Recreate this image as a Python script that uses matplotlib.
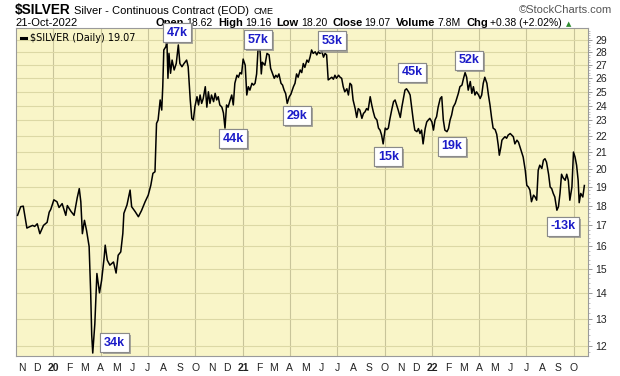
import matplotlib
matplotlib.use('Agg')
import matplotlib.pyplot as plt
import matplotlib.patheffects as pe
import matplotlib.ticker as mticker
from matplotlib.lines import Line2D
import numpy as np
import pandas as pd

plt.rcParams['font.family'] = ['Liberation Sans', 'DejaVu Sans']

# day offsets from 1-Jan-2020 and daily close of $SILVER
START = pd.Timestamp('2020-01-01')
day_offsets = [
    -69, -63, -58, -51, -47, -40, -36, -31, -26, -19,
    -12, -8, -5, 1, 7, 11, 17, 24, 27, 34,
    40, 46, 50, 53, 56, 60, 64, 69, 72, 74,
    76, 80, 84, 89, 93, 98, 100, 104, 109, 116,
    121, 125, 130, 134, 136, 142, 148, 151, 158, 164,
    170, 177, 183, 188, 192, 196, 199, 202, 206, 209,
    211, 213, 217, 219, 221, 223, 226, 229, 233, 237,
    241, 244, 248, 252, 257, 260, 264, 267, 270, 273,
    277, 280, 283, 286, 289, 293, 296, 299, 302, 305,
    309, 312, 315, 318, 321, 325, 328, 331, 334, 337,
    341, 344, 347, 350, 354, 357, 360, 363, 366, 370,
    373, 376, 379, 383, 386, 389, 392, 396, 399, 401,
    403, 405, 408, 412, 416, 419, 422, 426, 429, 432,
    435, 439, 442, 445, 448, 451, 455, 458, 463, 466,
    469, 472, 476, 479, 482, 485, 489, 492, 495, 498,
    501, 505, 508, 511, 514, 518, 521, 524, 527, 530,
    534, 537, 540, 543, 546, 550, 553, 556, 559, 562,
    566, 569, 572, 575, 578, 582, 585, 588, 591, 595,
    598, 601, 604, 607, 611, 614, 617, 620, 624, 627,
    630, 633, 636, 640, 643, 646, 649, 653, 656, 659,
    662, 665, 669, 672, 675, 678, 681, 685, 688, 691,
    694, 697, 701, 704, 707, 710, 713, 717, 720, 723,
    726, 730, 733, 736, 739, 742, 746, 749, 752, 755,
    759, 762, 765, 768, 771, 775, 778, 781, 784, 788,
    791, 794, 797, 800, 804, 807, 810, 813, 816, 820,
    823, 826, 829, 832, 836, 839, 842, 845, 848, 852,
    855, 858, 860, 863, 865, 868, 871, 874, 877, 881,
    884, 887, 890, 894, 897, 900, 903, 906, 910, 913,
    916, 919, 922, 926, 929, 932, 935, 938, 942, 945,
    948, 951, 955, 958, 961, 964, 967, 971, 974, 977,
    980, 983, 987, 990, 993, 996, 1000, 1003, 1006, 1009,
    1012, 1014, 1017, 1021, 1024,
]
close = [
    17.5, 17.94, 17.97, 16.87, 16.92, 17.0, 16.95, 17.08, 16.6, 17.0,
    17.15, 17.66, 17.8, 18.3, 18.2, 17.9, 18.1, 17.5, 18.0, 17.7,
    17.5, 18.4, 18.9, 18.2, 16.6, 17.25, 16.76, 16.0, 14.0, 12.4,
    11.77, 12.8, 14.8, 14.0, 14.5, 15.5, 16.06, 15.38, 15.16, 15.3,
    14.82, 15.6, 15.75, 16.61, 17.6, 18.03, 18.82, 17.94, 17.68, 17.43,
    17.74, 18.2, 18.55, 19.09, 19.75, 19.84, 22.81, 23.03, 24.4, 23.7,
    25.35, 28.18, 28.45, 28.9, 25.97, 27.9, 26.35, 27.37, 26.6, 27.1,
    28.59, 27.1, 26.85, 27.1, 27.37, 26.85, 24.4, 23.14, 23.03, 23.93,
    24.63, 24.05, 24.75, 24.16, 24.5, 25.35, 23.9, 24.98, 24.16, 24.75,
    24.28, 24.87, 24.4, 24.63, 24.05, 23.9, 23.5, 22.5, 24.05, 23.9,
    24.4, 24.75, 24.05, 25.6, 26.2, 26.05, 26.4, 26.3, 27.45, 26.97,
    24.75, 25.35, 25.1, 25.6, 25.47, 25.6, 26.3, 29.2, 27.9, 26.3,
    27.2, 27.1, 26.97, 27.9, 27.78, 26.73, 26.4, 25.97, 26.2, 26.05,
    26.3, 25.6, 25.47, 25.1, 24.85, 24.16, 24.63, 24.8, 25.35, 25.6,
    26.3, 26.05, 26.6, 26.4, 27.1, 26.8, 27.37, 27.2, 27.6, 28.18,
    27.9, 28.03, 27.78, 28.03, 27.9, 28.03, 27.6, 27.9, 27.78, 25.85,
    25.97, 26.05, 25.9, 26.2, 25.97, 26.2, 26.05, 25.97, 25.35, 24.98,
    25.2, 24.75, 25.6, 25.47, 24.4, 23.8, 23.2, 23.8, 23.7, 23.14,
    23.47, 23.58, 23.8, 23.7, 24.63, 24.05, 23.58, 23.2, 23.03, 22.5,
    22.37, 22.05, 21.5, 22.5, 22.4, 22.5, 23.1, 23.8, 24.28, 24.4,
    24.05, 23.7, 23.2, 23.9, 24.5, 25.1, 25.2, 24.98, 24.75, 23.9,
    23.03, 22.37, 22.27, 22.47, 22.15, 22.37, 21.5, 22.47, 22.9, 23.03,
    23.14, 22.9, 22.37, 23.03, 23.25, 23.9, 24.5, 24.63, 23.03, 22.37,
    22.27, 22.47, 23.03, 23.36, 23.9, 24.16, 24.5, 24.87, 25.35, 25.47,
    25.97, 26.4, 26.05, 25.1, 25.73, 24.87, 25.35, 24.75, 24.98, 24.75,
    24.5, 24.75, 25.6, 26.05, 25.6, 24.75, 24.05, 23.2, 22.5, 22.4,
    22.1, 21.4, 20.81, 21.3, 21.73, 21.85, 21.95, 21.85, 22.05, 22.15,
    22.05, 21.95, 21.5, 21.73, 21.6, 21.3, 21.0, 20.7, 19.93, 19.08,
    18.99, 18.82, 18.2, 18.55, 18.45, 18.28, 19.93, 20.22, 20.03, 20.51,
    20.6, 20.4, 19.7, 18.99, 18.9, 18.64, 18.45, 17.76, 17.94, 18.64,
    19.7, 19.5, 19.36, 19.7, 19.36, 18.28, 18.99, 21.0, 20.7, 20.22,
    19.36, 18.15, 18.64, 18.45, 19.07,
]

# flag boxes (volume notes) placed on the chart
label_text = ['34k', '47k', '44k', '57k', '29k', '53k', '15k', '45k', '19k', '52k', '-13k']
label_day = [118, 239, 347, 394, 470, 537, 646, 692, 768, 802, 982]
label_price = [12.13, 29.62, 21.83, 29.04, 23.33, 28.92, 20.73, 26.41, 21.36, 27.34, 16.97]

y_ticks = list(range(12, 30))

header_parts = [('Open', True), ('18.62', False), ('High', True), ('19.16', False),
                ('Low', True), ('18.20', False), ('Close', True), ('19.07', False),
                ('Volume', True), ('7.8M', False), ('Chg', True), ('+0.38 (+2.02%)', False)]

dates = START + pd.to_timedelta(day_offsets, unit='D')
label_dates = START + pd.to_timedelta(label_day, unit='D')

fig = plt.figure(figsize=(6.2, 3.76), dpi=100)
ax = fig.add_axes([16 / 620, 1 - 356 / 376, 572 / 620, 328 / 376])
ax.set_facecolor('#f9f5c8')

ax.plot(dates, close, color='black', lw=1.1, zorder=3)
ax.set_yscale('log')
ax.set_ylim(11.67, 30.02)
ax.set_xlim(pd.Timestamp('2019-10-21'), pd.Timestamp('2022-10-28'))

# y axis on the right
ax.yaxis.tick_right()
ax.set_yticks(y_ticks)
ax.yaxis.set_major_formatter(mticker.FormatStrFormatter('%d'))
ax.set_yticks(np.arange(11.8, 30.0, 0.2), minor=True)
ax.yaxis.set_minor_formatter(mticker.NullFormatter())
ax.tick_params(axis='y', which='major', labelsize=7.5, length=3, width=0.6,
               color='#888888', labelcolor='#222222', pad=2)
ax.tick_params(axis='y', which='minor', length=1.5, width=0.5, color='#aaaaaa')

# months along the bottom, quarters get grid lines
months = pd.date_range('2019-11-01', '2022-10-01', freq='MS')
month_labels = [f'{m.year % 100:02d}' if m.month == 1 else m.strftime('%b')[0] for m in months]
ax.set_xticks(months, month_labels)
for lab, m in zip(ax.get_xticklabels(), months):
    if m.month == 1:
        lab.set_fontweight('bold')
quarters = [m for m in months if m.month in (1, 4, 7, 10)]
ax.set_xticks(quarters, minor=True)
ax.xaxis.remove_overlapping_locs = False
ax.tick_params(axis='x', which='major', labelsize=7.5, length=0, pad=5, labelcolor='#222222')
ax.tick_params(axis='x', which='minor', length=0)

ax.grid(axis='y', which='major', color='#dcd8a5', lw=0.8, zorder=0)
ax.grid(axis='x', which='minor', color='#c8c49a', lw=0.8, zorder=0)
ax.set_axisbelow(True)
for s in ax.spines.values():
    s.set_color('#9a9a9a')
    s.set_linewidth(0.8)

ax.legend(handles=[Line2D([], [], color='black', lw=2.2)],
          labels=[r'\$SILVER (Daily) 19.07'], loc='upper left', frameon=False,
          handlelength=0.5, handletextpad=0.4, borderaxespad=0.15,
          prop={'family': 'DejaVu Sans', 'size': 7})

for d, p, t in zip(label_dates, label_price, label_text):
    txt = ax.text(d, p, t, fontsize=9, fontweight='bold', color='#1c1cc8',
                  ha='center', va='center', zorder=8, clip_on=False,
                  bbox=dict(boxstyle='square,pad=0.28', fc='white', ec='#8a8a8a', lw=0.8))
    txt.get_bbox_patch().set_path_effects(
        [pe.withSimplePatchShadow(offset=(1.5, -1.5), shadow_rgbFace='#888888', alpha=0.7), pe.Normal()])

# header
fig.text(15 / 620, 1 - 10 / 376, r'\$SILVER', fontsize=9.8, fontweight='bold', va='center', zorder=-1)
fig.text(74 / 620, 1 - 10.5 / 376, 'Silver - Continuous Contract (EOD)', fontsize=8, va='center', zorder=-1)
fig.text(253 / 620, 1 - 11 / 376, 'CME', fontsize=6.5, va='center', zorder=-1)
fig.text(612 / 620, 1 - 10 / 376, '\u00a9StockCharts.com', fontsize=8, color='#555555',
         ha='right', va='center', zorder=-1)
fig.text(15 / 620, 1 - 23 / 376, '21-Oct-2022', fontsize=8, va='center', zorder=-1)

prev = None
for s, bold in header_parts:
    w = 'bold' if bold else 'normal'
    size = 8 if bold else 7.5
    if prev is None:
        prev = ax.annotate(s, xy=(156 / 620, 1 - 23 / 376), xycoords='figure fraction',
                           fontsize=size, fontweight=w, va='center', ha='left',
                           annotation_clip=False, zorder=1)
    else:
        gap = 1.5 if bold is False else 3.8
        prev = ax.annotate(s, xy=(1, 0), xycoords=prev, xytext=(gap, 0),
                           textcoords='offset points', fontsize=size, fontweight=w,
                           va='bottom', ha='left', annotation_clip=False, zorder=1)
ax.annotate('\u25b2', xy=(1, 0.1), xycoords=prev, xytext=(3, 0), textcoords='offset points',
            fontsize=5, color='#2e8b2e', family='DejaVu Sans', va='bottom', ha='left',
            annotation_clip=False, zorder=1)

fig.savefig('out.png', dpi=100, facecolor='white')
